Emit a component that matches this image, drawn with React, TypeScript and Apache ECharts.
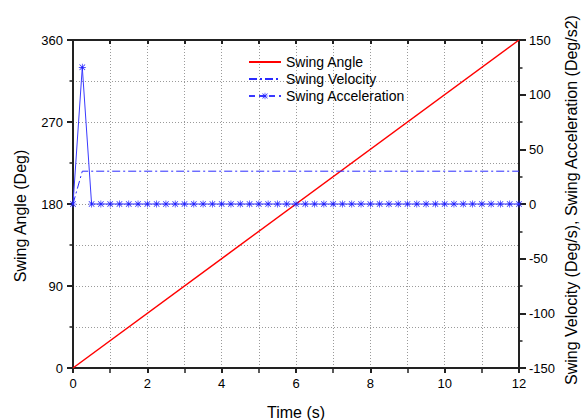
import React, { useEffect, useRef } from "react";
import * as echarts from "echarts";

const timeValues = [
  0, 0.25, 0.5, 0.75, 1, 1.25, 1.5, 1.75, 2, 2.25, 2.5, 2.75, 3, 3.25, 3.5, 3.75,
  4, 4.25, 4.5, 4.75, 5, 5.25, 5.5, 5.75, 6, 6.25, 6.5, 6.75, 7, 7.25, 7.5, 7.75,
  8, 8.25, 8.5, 8.75, 9, 9.25, 9.5, 9.75, 10, 10.25, 10.5, 10.75, 11, 11.25, 11.5,
  11.75, 12,
];
const accelerationValues = [
  0, 125, 0, 0, 0, 0, 0, 0, 0, 0, 0, 0, 0, 0, 0, 0,
  0, 0, 0, 0, 0, 0, 0, 0, 0, 0, 0, 0, 0, 0, 0, 0,
  0, 0, 0, 0, 0, 0, 0, 0, 0, 0, 0, 0, 0, 0, 0,
  0, 0,
];
const angleTimes = [0, 12];
const angleValues = [0, 360];
const velocityTimes = [0, 0.25, 12];
const velocityValues = [0, 30, 30];

const seriesNames = ["Swing Angle", "Swing Velocity", "Swing Acceleration"];
const xTitle = "Time (s)";
const leftTitle = "Swing Angle (Deg)";
const rightTitle = "Swing Velocity (Deg/s), Swing Acceleration (Deg/s2)";

const FONT = "'Liberation Sans', Arial, sans-serif";
const starPath =
  "path://M4.5 0 L5.5 0 L5.5 10 L4.5 10 Z M0 4.5 L10 4.5 L10 5.5 L0 5.5 Z M0.7 1.4 L1.4 0.7 L9.3 8.6 L8.6 9.3 Z M8.6 0.7 L9.3 1.4 L1.4 9.3 L0.7 8.6 Z";

const gridLine = { show: true, lineStyle: { color: "#9a9a9a", type: [1, 2] as any, width: 1 } };
const axisLineStyle = { color: "#222", width: 2 };
const minorTickStyle = { color: "#222", width: 1.5 };

export default function App() {
  const ref = useRef<HTMLDivElement>(null);
  useEffect(() => {
    if (!ref.current) return;
    const chart = echarts.init(ref.current, undefined, { renderer: "svg" });
    const zip = (xs: number[], ys: number[]) => xs.map((x, i) => [x, ys[i]]);
    chart.setOption({
      animation: false,
      backgroundColor: "#fff",
      textStyle: { fontFamily: FONT },
      grid: { left: 73, right: 67, top: 40, bottom: 52, containLabel: false },
      legend: {
        orient: "vertical",
        left: 243,
        top: 50,
        itemWidth: 32,
        itemHeight: 8,
        itemGap: 3,
        textStyle: { fontSize: 14, lineHeight: 14, color: "#000", fontFamily: FONT },
        data: [
          { name: seriesNames[0], itemStyle: { opacity: 0 } },
          { name: seriesNames[1], itemStyle: { opacity: 0 } },
          { name: seriesNames[2], lineStyle: { type: [6, 4] } },
        ],
      },
      xAxis: [
        {
          type: "value",
          min: 0,
          max: 12,
          interval: 2,
          axisLine: { show: true, onZero: false, lineStyle: axisLineStyle },
          axisTick: { show: true, inside: false, length: 5, lineStyle: axisLineStyle },
          minorTick: { show: true, splitNumber: 2, length: 5, lineStyle: minorTickStyle },
          axisLabel: { color: "#000", fontSize: 13, margin: 9, fontFamily: FONT },
          splitLine: gridLine,
          minorSplitLine: gridLine,
        },
        {
          type: "value",
          position: "top",
          min: 0,
          max: 12,
          interval: 1,
          axisLine: { show: true, onZero: false, lineStyle: axisLineStyle },
          axisTick: { show: true, inside: true, length: 4, lineStyle: axisLineStyle },
          axisLabel: { show: false },
          splitLine: { show: false },
        },
      ],
      yAxis: [
        {
          type: "value",
          min: 0,
          max: 360,
          interval: 90,
          position: "left",
          axisLine: { show: true, onZero: false, lineStyle: axisLineStyle },
          axisTick: { show: true, inside: false, length: 6, lineStyle: axisLineStyle },
          minorTick: { show: true, splitNumber: 2, length: 3.5, lineStyle: minorTickStyle },
          axisLabel: { color: "#000", fontSize: 13, margin: 10, fontFamily: FONT },
          splitLine: gridLine,
          minorSplitLine: gridLine,
        },
        {
          type: "value",
          min: -150,
          max: 150,
          interval: 50,
          position: "right",
          axisLine: { show: true, onZero: false, lineStyle: axisLineStyle },
          axisTick: { show: true, inside: false, length: 7, lineStyle: axisLineStyle },
          minorTick: { show: true, splitNumber: 2, length: 3.5, lineStyle: minorTickStyle },
          axisLabel: { color: "#000", fontSize: 13, margin: 10, fontFamily: FONT },
          splitLine: { show: false },
        },
      ],
      graphic: [
        {
          type: "text",
          x: 296,
          y: 412,
          style: {
            text: xTitle,
            font: `16px ${FONT}`,
            fill: "#000",
            textAlign: "center",
            textVerticalAlign: "middle",
          },
        },
        {
          type: "text",
          x: 20,
          y: 216,
          rotation: Math.PI / 2,
          style: {
            text: leftTitle,
            font: `16px ${FONT}`,
            fill: "#000",
            textAlign: "center",
            textVerticalAlign: "middle",
          },
        },
        {
          type: "text",
          x: 571,
          y: 385,
          rotation: Math.PI / 2,
          style: {
            text: rightTitle,
            font: `16px ${FONT}`,
            fill: "#000",
            textAlign: "left",
            textVerticalAlign: "middle",
          },
        },
      ],
      series: [
        {
          name: seriesNames[0],
          type: "line",
          xAxisIndex: 0,
          yAxisIndex: 0,
          data: zip(angleTimes, angleValues),
          symbol: "none",
          lineStyle: { color: "#ff0000", width: 1.5 },
          itemStyle: { color: "#ff0000" },
        },
        {
          name: seriesNames[1],
          type: "line",
          xAxisIndex: 0,
          yAxisIndex: 1,
          data: zip(velocityTimes, velocityValues),
          symbol: "none",
          lineStyle: { color: "#2a2aff", width: 1, type: [8, 3, 2, 3] },
          itemStyle: { color: "#2a2aff" },
        },
        {
          name: seriesNames[2],
          type: "line",
          xAxisIndex: 0,
          yAxisIndex: 1,
          data: zip(timeValues, accelerationValues),
          symbol: starPath,
          symbolSize: 7,
          showSymbol: true,
          showAllSymbol: true,
          lineStyle: { color: "#3a3aff", width: 1 },
          itemStyle: { color: "#2020ff" },
        },
      ],
    });
    return () => chart.dispose();
  }, []);
  return (
    <div
      ref={ref}
      style={{ position: "fixed", left: 0, top: 0, width: 586, height: 420 }}
    />
  );
}
